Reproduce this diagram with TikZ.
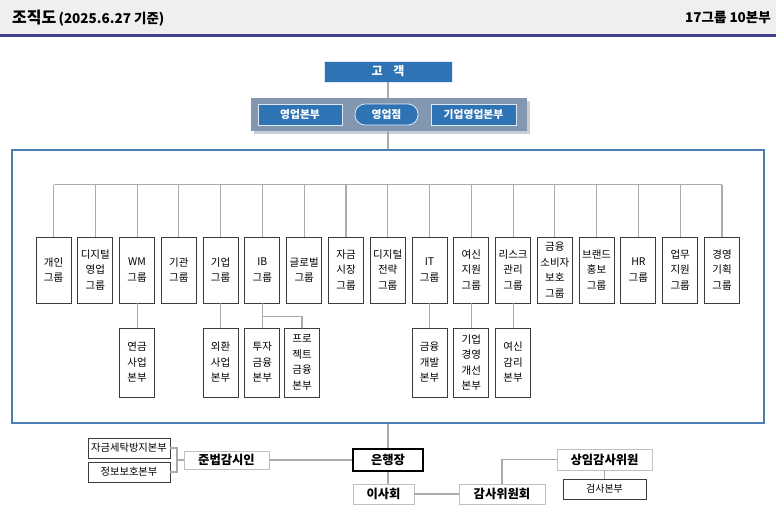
\documentclass[tikz,border=0pt]{standalone}
\usepackage{fontspec}
\setmainfont{Noto Sans CJK KR}
\definecolor{headerBg}{HTML}{EFEFEF}
\definecolor{headerLine}{HTML}{41418F}
\definecolor{boxBlue}{HTML}{2E74B5}
\definecolor{boxBlueEdge}{HTML}{DCE8F5}
\definecolor{panelGray}{HTML}{8497B0}
\definecolor{shadowGray}{HTML}{C8CDD6}
\definecolor{frameBlue}{HTML}{4A7EB5}
\definecolor{lineGray}{HTML}{ABABAB}
\definecolor{boxBorder}{HTML}{3C3C3C}
\definecolor{lightBorder}{HTML}{BFBFBF}
\begin{document}
\begin{tikzpicture}[x=1pt,y=-1pt,
  conn/.style={draw=lineGray, line width=1.1pt},
  gbox/.style={draw=boxBorder, line width=0.9pt, fill=white, minimum width=35pt,
    minimum height=66pt, inner sep=0pt, align=center,
    font=\fontsize{10.5}{15.5}\selectfont},
  sbox/.style={gbox, minimum height=69pt},
  bluebox/.style={fill=boxBlue, draw=boxBlueEdge, line width=0.8pt, text=white,
    font=\fontsize{10.8}{12}\selectfont\bfseries, minimum height=21pt, inner sep=0pt},
  bigbox/.style={draw=lightBorder, line width=0.9pt, fill=white, inner sep=0pt,
    font=\fontsize{12.3}{14}\selectfont\bfseries, minimum height=20pt},
  smallbox/.style={draw=boxBorder, line width=0.9pt, fill=white, inner sep=0pt,
    font=\fontsize{10.3}{12}\selectfont, minimum height=20pt}
]
\useasboundingbox (0,0) rectangle (776,522);
% header
\fill[headerBg] (0,0) rectangle (776,34);
\fill[headerLine] (0,33.5) rectangle (776,36.5);
\node[anchor=west, inner sep=0pt] (title) at (12,18)
  {{\fontsize{16}{18}\selectfont\bfseries 조직도} {\fontsize{13.5}{15}\selectfont\bfseries (2025.6.27 기준)}};
\node[anchor=east, inner sep=0pt, font=\fontsize{13.5}{15}\selectfont\bfseries] (count) at (771,18) {17그룹 10본부};

% customer and sales panel
\node[bluebox, minimum width=128pt, font=\fontsize{12}{14}\selectfont\bfseries] (cust) at (388,71.5) {고\hspace{0.9em}객};
\fill[shadowGray] (254,101) rectangle (530,134);
\node[fill=panelGray, minimum width=276pt, minimum height=33pt, inner sep=0pt] (panel) at (389,114.5) {};
\node[bluebox, minimum width=84pt] (sales1) at (300,114.5) {영업본부};
\node[bluebox, minimum width=63pt, rounded corners=10pt] (sales2) at (386.5,114.5) {영업점};
\node[bluebox, minimum width=85pt] (sales3) at (473.5,114.5) {기업영업본부};

% frame
\node[draw=frameBlue, line width=2pt, minimum width=752pt, minimum height=273.5pt, inner sep=0pt] (frame) at (388,286.25) {};

\draw[conn] (cust.south) -- (cust.south |- panel.north);
\draw[conn] (cust.south |- panel.south) -- (cust.south |- frame.north);

% groups
\node[gbox] (g0) at (53.5,270) {개인\\그룹};
\node[gbox] (g1) at (95.3,270) {디지털\\영업\\그룹};
\node[gbox] (g2) at (137.1,270) {WM\\그룹};
\node[gbox] (g3) at (178.8,270) {기관\\그룹};
\node[gbox] (g4) at (220.6,270) {기업\\그룹};
\node[gbox] (g5) at (262.4,270) {IB\\그룹};
\node[gbox] (g6) at (304.2,270) {글로벌\\그룹};
\node[gbox] (g7) at (346.0,270) {자금\\시장\\그룹};
\node[gbox] (g8) at (387.7,270) {디지털\\전략\\그룹};
\node[gbox] (g9) at (429.5,270) {IT\\그룹};
\node[gbox] (g10) at (471.3,270) {여신\\지원\\그룹};
\node[gbox] (g11) at (513.1,270) {리스크\\관리\\그룹};
\node[gbox] (g12) at (554.9,270) {금융\\소비자\\보호\\그룹};
\node[gbox] (g13) at (596.6,270) {브랜드\\홍보\\그룹};
\node[gbox] (g14) at (638.4,270) {HR\\그룹};
\node[gbox] (g15) at (680.2,270) {업무\\지원\\그룹};
\node[gbox] (g16) at (722.0,270) {경영\\기획\\그룹};

\coordinate (busL) at (53.5,184.5);
\coordinate (busR) at (722,184.5);
\draw[conn] (busL) -- (busR);
\foreach \i in {0,...,16}{
  \draw[conn] (g\i.north) -- (g\i.north |- busL);
}

% sub units
\node[sbox] (s2) at (137.1,362.5) {연금\\사업\\본부};
\node[sbox] (s4) at (220.6,362.5) {외환\\사업\\본부};
\node[sbox] (s5a) at (262.4,362.5) {투자\\금융\\본부};
\node[sbox] (s5b) at (302,362.5) {프로\\젝트\\금융\\본부};
\node[sbox] (s9) at (429.5,362.5) {금융\\개발\\본부};
\node[sbox] (s10) at (471.3,362.5) {기업\\경영\\개선\\본부};
\node[sbox] (s11) at (513.1,362.5) {여신\\감리\\본부};

\draw[conn] (g2.south) -- (s2.north);
\draw[conn] (g4.south) -- (s4.north);
\draw[conn] (g5.south) -- (s5a.north);
\draw[conn] (g5.south) ++(0,13) -| (s5b.north);
\draw[conn] (g9.south) -- (s9.north);
\draw[conn] (g10.south) -- (s10.north);
\draw[conn] (g11.south) -- (s11.north);

% bottom governance
\node[bigbox, draw=black, line width=1.6pt, minimum width=70pt, minimum height=22pt] (ceo) at (388,460) {은행장};
\node[bigbox, minimum width=61pt] (board) at (383.5,494) {이사회};
\node[bigbox, minimum width=86pt] (audit) at (502,494) {감사위원회};
\node[bigbox, minimum width=95pt, minimum height=21pt] (standing) at (604.5,459.5) {상임감사위원};
\node[smallbox, minimum width=83pt, font=\fontsize{10}{12}\selectfont] (insp) at (604.5,489) {검사본부};
\node[bigbox, minimum width=85pt, minimum height=18pt] (compliance) at (226.5,460) {준법감시인};
\node[smallbox, minimum width=82pt] (aml) at (129,448) {자금세탁방지본부};
\node[smallbox, minimum width=82pt] (info) at (129,472) {정보보호본부};
\coordinate (brk) at (177,460);

\draw[conn] (frame.south -| ceo.north) -- (ceo.north);
\draw[conn] (ceo.south) -- (ceo.south |- board.north);
\draw[conn] (board.east) -- (audit.west);
\draw[conn] (audit.north) |- (standing.west);
\draw[conn] (standing.south) -- (insp.north);
\draw[conn] (compliance.east) -- (ceo.west);
\draw[conn] (aml.east) -| (brk) |- (info.east);
\draw[conn] (brk) -- (compliance.west);
\end{tikzpicture}
\end{document}
